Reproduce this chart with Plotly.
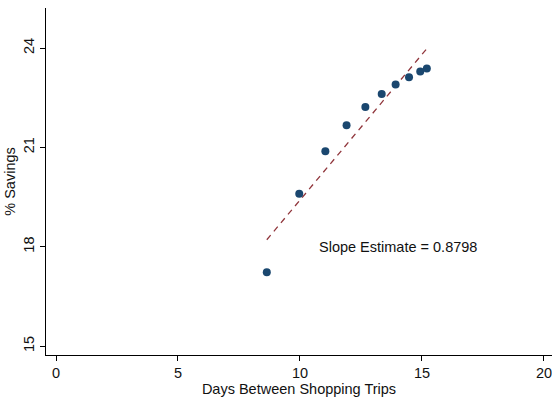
import plotly.graph_objects as go

# Binned scatter: shopping-trip interval vs. percentage savings
days = [8.64, 9.97, 11.04, 11.91, 12.68, 13.35, 13.92, 14.47, 14.93, 15.20]
savings = [17.23, 19.60, 20.88, 21.67, 22.22, 22.61, 22.90, 23.12, 23.29, 23.38]

slope = 0.8798
intercept = 10.61

x_ticks = [0, 5, 10, 15, 20]
y_ticks = [15, 18, 21, 24]

fit_x = [min(days), max(days)]
fit_y = [intercept + slope * v for v in fit_x]

FS = 14.5

fig = go.Figure()
fig.add_trace(go.Scatter(
    x=fit_x, y=fit_y, mode="lines",
    line=dict(color="#90353b", width=1.3, dash="6px,5px"),
    showlegend=False, hoverinfo="skip",
))
fig.add_trace(go.Scatter(
    x=days, y=savings, mode="markers",
    marker=dict(color="#1a476f", size=8, line=dict(width=0)),
    showlegend=False,
))

fig.add_annotation(
    x=10.68, y=18.0, xref="x", yref="y",
    text=f"Slope Estimate = {slope:.4f}",
    showarrow=False, xanchor="left", yanchor="middle",
    font=dict(size=FS, color="#111111"),
)

axis_common = dict(
    showgrid=False, zeroline=False, showline=True,
    linecolor="#000000", linewidth=1,
    ticks="outside", ticklen=5, tickcolor="#000000",
    tickfont=dict(size=FS, color="#111111"),
    ticklabeloverflow="allow",
)

fig.update_layout(
    width=552, height=402,
    margin=dict(l=46, r=0, t=8, b=47),
    paper_bgcolor="white", plot_bgcolor="white",
    font=dict(family="Liberation Sans, Arial, sans-serif", size=FS, color="#111111"),
    xaxis=dict(
        range=[-0.41, 20.33], tickvals=x_ticks,
        title=dict(text="Days Between Shopping Trips", font=dict(size=FS), standoff=1),
        **axis_common,
    ),
    yaxis=dict(
        range=[14.73, 25.21], tickvals=y_ticks, tickangle=-90,
        title=dict(text="% Savings", font=dict(size=FS), standoff=2),
        **axis_common,
    ),
)

fig.write_html("out.html")
